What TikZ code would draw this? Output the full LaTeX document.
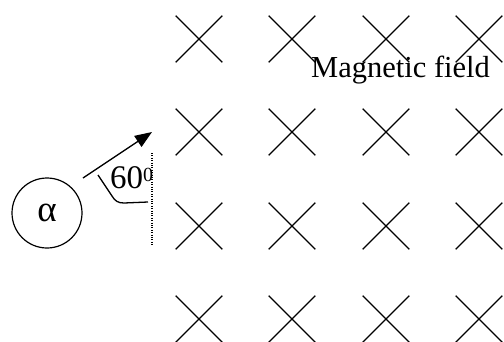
\documentclass[tikz,border=0pt]{standalone}
\usepackage{fontspec}
\setmainfont{Liberation Serif}
\usetikzlibrary{arrows.meta}
\begin{document}
\begin{tikzpicture}[x=1pt,y=-1pt,
  crossline/.style={line width=1.4pt},
  bigtext/.style={font=\fontsize{30.5}{36}\selectfont, inner sep=0pt},
  particle/.style={draw, circle, line width=1.2pt, minimum size=70pt, inner sep=0pt, font=\fontsize{37}{40}\selectfont},
  thin/.style={line width=1.3pt}]
\useasboundingbox (0,0) rectangle (504,341);
\begin{scope}
\clip (0,0) rectangle (504,341);
\foreach \cx in {199,292,386,479}{
  \foreach \cy in {39,132,226,319}{
    \draw[crossline] (\cx-23.3,\cy-23.3) -- (\cx+23.3,\cy+23.3)
                     (\cx-23.3,\cy+23.3) -- (\cx+23.3,\cy-23.3);
  }
}
\end{scope}
\node[bigtext, anchor=base west] (field) at (311,77) {Magnetic field};
\node[particle] (alpha) at (47,213) {α};
\coordinate (arrS) at (83,178);
\coordinate (arrE) at (152,132);
\draw[thin, -{Triangle[length=17pt,width=13pt]}] (arrS) -- (arrE);
\coordinate (dotT) at (152,153);
\coordinate (dotB) at (152,246);
\draw[line width=1.3pt, dash pattern=on 1pt off 1.4pt] (dotT) -- (dotB);
\coordinate (arcA) at (98,175);
\coordinate (arcB) at (148,202);
\draw[thin] (arcA) -- (112,196) .. controls (115,201) and (118,203) .. (124,203) -- (arcB);
\node[inner sep=0pt, anchor=base west, font=\fontsize{33}{36}\selectfont] (angle) at (110,188) {60\raisebox{6.5pt}{\fontsize{20}{20}\selectfont 0}};
\end{tikzpicture}
\end{document}
